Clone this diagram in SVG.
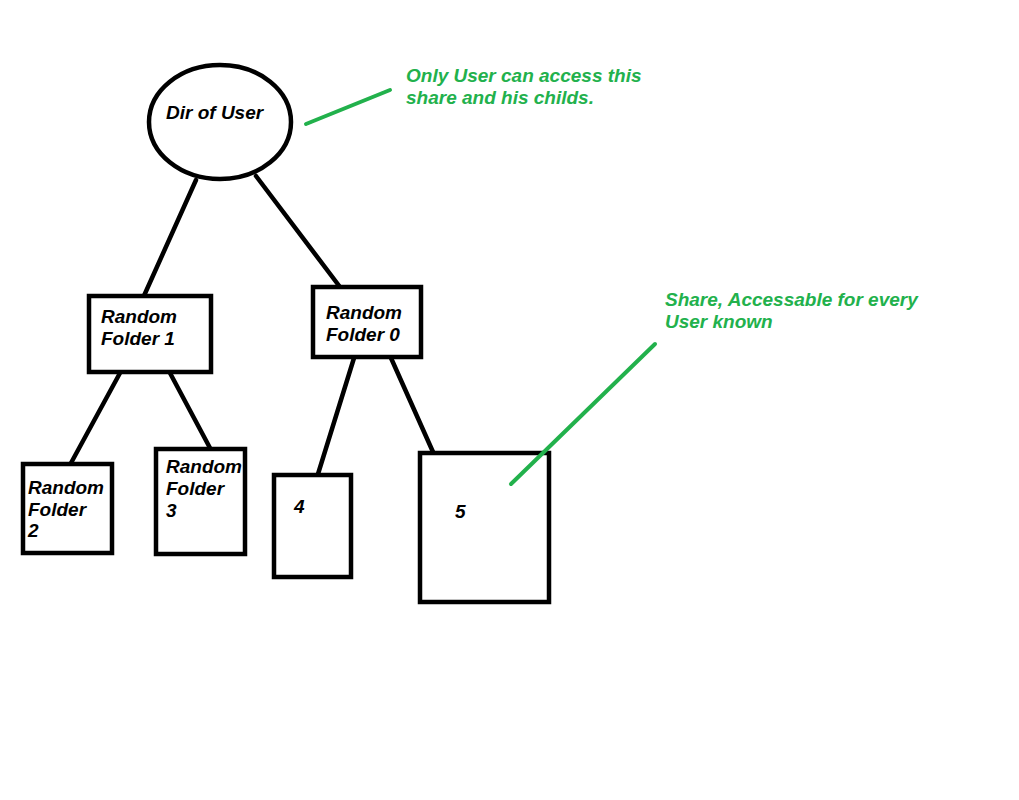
<svg xmlns="http://www.w3.org/2000/svg" width="1019" height="800" viewBox="0 0 1019 800">
<style>
.n{fill:#fff;stroke:#000;stroke-width:4.5}
.t{font-family:"Liberation Sans",Arial,sans-serif;font-size:19px;font-weight:bold;font-style:italic;fill:#000}
.g{font-family:"Liberation Sans",Arial,sans-serif;font-size:19px;font-weight:bold;font-style:italic;fill:#22b14c}
.c{stroke:#000;stroke-width:4.5;fill:none;stroke-linecap:round}
.a{stroke:#22b14c;stroke-width:4;fill:none;stroke-linecap:round}
</style>
<rect width="1019" height="800" fill="#fff"/>
<g id="connectors">
<line class="c" x1="196" y1="180" x2="143" y2="298"/>
<line class="c" x1="256" y1="176" x2="343" y2="291"/>
<line class="c" x1="120" y1="373" x2="71" y2="463"/>
<line class="c" x1="170" y1="373" x2="210" y2="448"/>
<line class="c" x1="354" y1="358" x2="318" y2="474"/>
<line class="c" x1="391" y1="358" x2="433" y2="452"/>
</g>
<g id="dir-of-user">
<ellipse class="n" cx="220" cy="122" rx="71" ry="57"/>
<text class="t" x="166" y="119">Dir of User</text>
</g>
<g id="random-folder-1">
<rect class="n" x="89" y="296" width="122" height="76"/>
<text class="t" x="101" y="323">Random</text>
<text class="t" x="101" y="345">Folder 1</text>
</g>
<g id="random-folder-0">
<rect class="n" x="313" y="287" width="108" height="70"/>
<text class="t" x="326" y="319">Random</text>
<text class="t" x="326" y="341">Folder 0</text>
</g>
<g id="random-folder-2">
<rect class="n" x="23" y="464" width="89" height="89"/>
<text class="t" x="28" y="494">Random</text>
<text class="t" x="28" y="516">Folder</text>
<text class="t" x="28" y="537">2</text>
</g>
<g id="random-folder-3">
<rect class="n" x="156" y="449" width="89" height="105"/>
<text class="t" x="166" y="473">Random</text>
<text class="t" x="166" y="495">Folder</text>
<text class="t" x="166" y="517">3</text>
</g>
<g id="node-4">
<rect class="n" x="274" y="475" width="77" height="102"/>
<text class="t" x="294" y="513">4</text>
</g>
<g id="node-5">
<rect class="n" x="420" y="453" width="129" height="149"/>
<text class="t" x="455" y="518">5</text>
</g>
<g id="annotations">
<line class="a" x1="306" y1="124" x2="390" y2="90"/>
<text class="g" x="406" y="82">Only User can access this</text>
<text class="g" x="406" y="104">share and his childs.</text>
<line class="a" x1="655" y1="344" x2="511" y2="484"/>
<text class="g" x="665" y="306">Share, Accessable for every</text>
<text class="g" x="665" y="328">User known</text>
</g>
</svg>
